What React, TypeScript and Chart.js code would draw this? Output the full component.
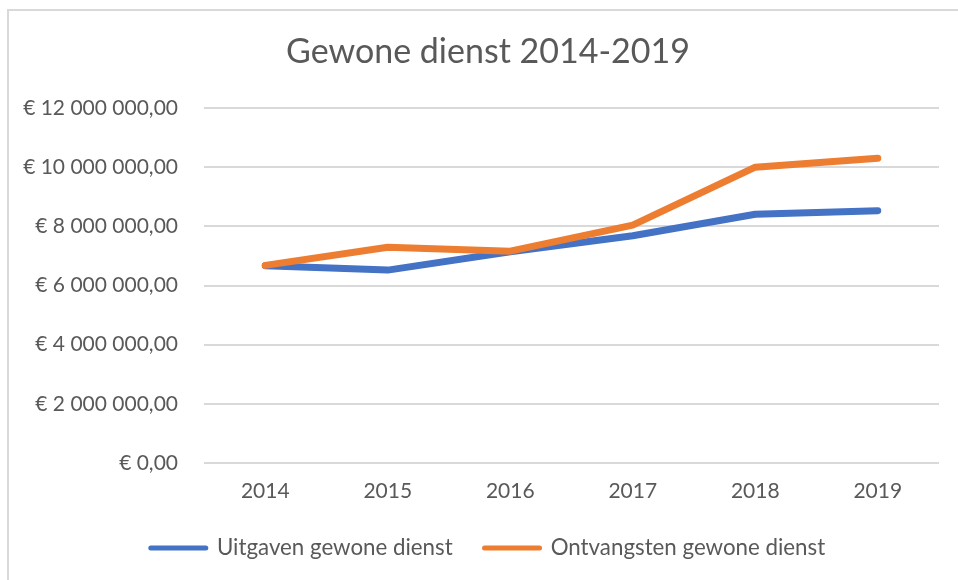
import React, { useEffect, useRef } from 'react';
import { Chart, registerables } from 'chart.js';

Chart.register(...registerables);

const years = ['2014', '2015', '2016', '2017', '2018', '2019'];
const uitgaven = [6670000, 6520000, 7140000, 7680000, 8410000, 8530000];
const ontvangsten = [6680000, 7290000, 7160000, 8040000, 10000000, 10300000];
const yMin = 0;
const yMax = 12000000;
const yStep = 2000000;

const TEXT = '#595959';
const GRID = '#d9d9d9';
const FONT = 'Lato';
const CANVAS_W = 976;
const CANVAS_H = 580;

function euro(v: number): string {
  const s = Math.round(v).toString().replace(/\B(?=(\d{3})+(?!\d))/g, ' ');
  return '€ ' + s + ',00';
}

export default function App() {
  const ref = useRef<HTMLCanvasElement | null>(null);

  useEffect(() => {
    if (!ref.current) return;
    const chart = new Chart(ref.current, {
      type: 'line',
      data: {
        labels: years,
        datasets: [
          {
            label: 'Uitgaven gewone dienst',
            data: uitgaven,
            borderColor: '#4472C4',
            backgroundColor: '#4472C4',
            borderWidth: 7,
            borderCapStyle: 'round',
            borderJoinStyle: 'round',
            pointRadius: 0,
            tension: 0,
            order: 1,
          },
          {
            label: 'Ontvangsten gewone dienst',
            data: ontvangsten,
            borderColor: '#ED7D31',
            backgroundColor: '#ED7D31',
            borderWidth: 7,
            borderCapStyle: 'round',
            borderJoinStyle: 'round',
            pointRadius: 0,
            tension: 0,
            order: 0,
          },
        ],
      },
      options: {
        animation: false,
        responsive: false,
        devicePixelRatio: 1,
        layout: { padding: { left: 0, right: 0, top: 0, bottom: 10.85 } },
        plugins: {
          title: {
            display: true,
            text: 'Gewone dienst 2014-2019',
            color: TEXT,
            font: { family: FONT, size: 34, weight: 'normal' },
            padding: { top: 31.6, bottom: 35.6 },
          },
          legend: {
            position: 'bottom',
            labels: {
              color: TEXT,
              font: { family: FONT, size: 22.3 },
              usePointStyle: true,
              pointStyle: 'line',
              pointStyleWidth: 55,
              padding: 31.85,
              sort: (a: any, b: any) => a.datasetIndex - b.datasetIndex,
              generateLabels: (c: any) =>
                (Chart.defaults.plugins.legend.labels as any)
                  .generateLabels(c)
                  .map((l: any) => ({ ...l, lineWidth: 5, lineCap: 'round', pointStyle: 'line' })),
            },
          },
          tooltip: { enabled: false },
        },
        scales: {
          x: {
            offset: true,
            grid: { display: false, drawTicks: false },
            border: { display: false },
            ticks: { color: TEXT, font: { family: FONT, size: 21 }, padding: 16, maxRotation: 0 },
            afterFit: (s: any) => {
              s.height = 42;
            },
          },
          y: {
            min: yMin,
            max: yMax,
            grid: { color: GRID, lineWidth: 2, drawTicks: false },
            border: { display: false },
            ticks: {
              stepSize: yStep,
              color: TEXT,
              font: { family: FONT, size: 21 },
              padding: 26,
              callback: (v: any) => euro(Number(v)),
            },
            afterFit: (s: any) => {
              s.width = 204;
            },
          },
          yRight: {
            position: 'right',
            min: yMin,
            max: yMax,
            grid: { display: false, drawTicks: false },
            border: { display: false },
            ticks: { display: false },
            afterFit: (s: any) => {
              s.width = 37;
            },
          },
        },
      },
    });
    return () => chart.destroy();
  }, []);

  return (
    <div style={{ position: 'fixed', left: 0, top: 0, width: 958, height: 580, overflow: 'hidden', background: '#fff' }}>
      <div
        style={{
          position: 'absolute',
          left: 7,
          top: 9,
          right: -20,
          bottom: -20,
          borderTop: '2px solid #d9d9d9',
          borderLeft: '2px solid #d9d9d9',
        }}
      />
      <canvas
        ref={ref}
        width={CANVAS_W}
        height={CANVAS_H}
        style={{ position: 'absolute', left: 0, top: 0, width: CANVAS_W, height: CANVAS_H }}
      />
    </div>
  );
}
